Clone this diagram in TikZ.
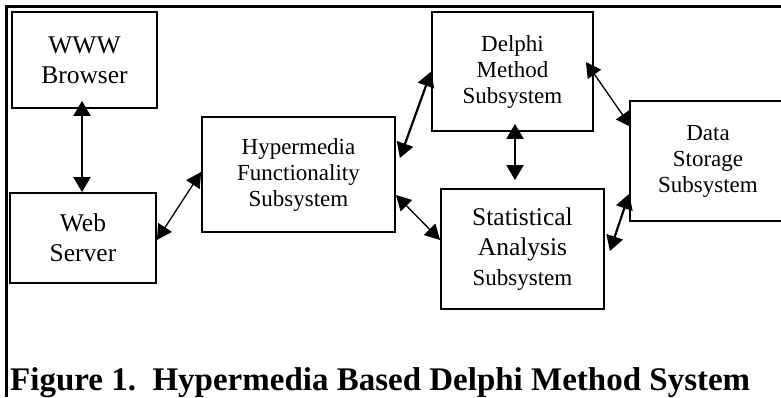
\documentclass[tikz,border=0pt]{standalone}
\usepackage{fontspec}
\setmainfont{Liberation Serif}
\usetikzlibrary{arrows.meta}
\newcommand{\bigtxt}{\fontsize{25.5}{30}\selectfont}
\newcommand{\smalltxt}{\fontsize{23}{26}\selectfont}
\begin{document}
\begin{tikzpicture}[x=1pt, y=-1pt,
  box/.style={draw, line width=1.8pt, inner sep=0pt, align=center},
  heavy/.style={line width=2.2pt, {Triangle[length=15pt,width=17pt]}-{Triangle[length=15pt,width=17pt]}},
  light/.style={line width=1.3pt, {Triangle[length=15pt,width=16pt]}-{Triangle[length=15pt,width=16pt]}}]
\useasboundingbox (0,0) rectangle (781,397);
% frame
\draw[line width=3pt] (6,397) -- (6,6) -- (790,6);
\node[box, font=\bigtxt, minimum width=145pt, minimum height=96pt] (browser) at (84.5,60){WWW\\Browser};
\node[box, font=\bigtxt, minimum width=146pt, minimum height=90pt] (server) at (83,238){Web\\Server};
\node[box, font=\smalltxt, minimum width=193pt, minimum height=115pt] (hyper) at (298.5,174.5){Hypermedia\\Functionality\\Subsystem};
\node[box, font=\smalltxt, minimum width=161pt, minimum height=119pt] (delphi) at (512.5,71.5){Delphi\\Method\\Subsystem};
\node[box, font=\bigtxt, minimum width=163pt, minimum height=120pt] (stats) at (522.5,249){Statistical\\Analysis\\{\smalltxt Subsystem}};
\node[box, font=\smalltxt, minimum width=156pt, minimum height=120pt] (storage) at (708,161){Data\\Storage\\Subsystem};
% connectors
\draw[heavy] ([xshift=-2.5pt,yshift=8pt]browser.south) -- ([xshift=-1pt]server.north);
\draw[light] ([yshift=-2pt]server.east) -- ([yshift=2.5pt]hyper.west);
\draw[heavy] ([xshift=4pt,yshift=16.5pt]hyper.east) -- (delphi.west);
\draw[light] ([yshift=-20.5pt]hyper.east) -- ([yshift=9pt]stats.west);
\draw[heavy] ([xshift=2.5pt,yshift=8pt]delphi.south) -- ([xshift=-7.5pt,yshift=8pt]stats.north);
\draw[light] ([xshift=-8pt,yshift=9.5pt]delphi.east) -- ([xshift=2pt,yshift=-27pt]storage.north west);
\draw[heavy] ([xshift=5pt,yshift=-2pt]stats.east) -- ([yshift=28pt]storage.south west);
\node[anchor=base west, inner sep=0pt, font=\fontsize{33}{36}\selectfont\bfseries] (caption) at (10,390){Figure 1.\ \ Hypermedia Based Delphi Method System};
\end{tikzpicture}
\end{document}
